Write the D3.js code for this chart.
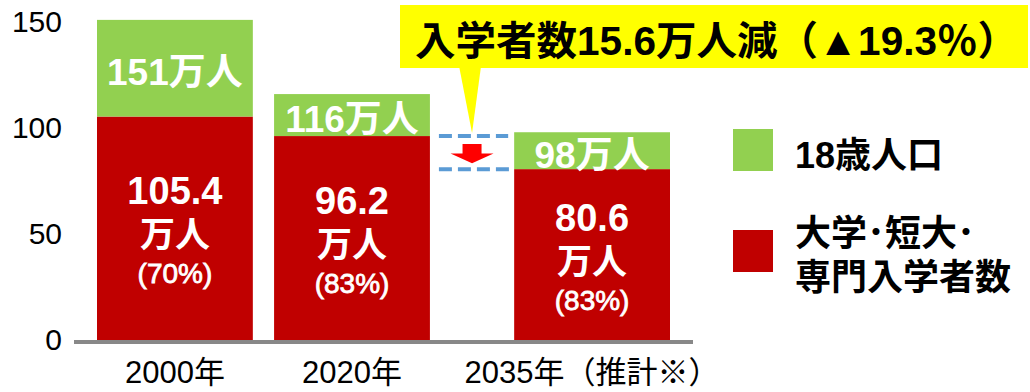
<!DOCTYPE html>
<html lang="ja">
<head>
<meta charset="utf-8">
<script src="https://cdn.jsdelivr.net/npm/d3@7"></script>
<style>
  html, body { margin: 0; padding: 0; background: #fff; }
  svg { display: block; }
  text { font-family: "Liberation Sans", Arial, "Noto Sans CJK JP", sans-serif; }
</style>
</head>
<body>
<svg id="chart" width="1030" height="392"></svg>
<script>
// 18歳人口と大学・短大・専門入学者数（万人）
const categories    = ["2000年", "2020年", "2035年（推計※）"];
const population18  = [151, 116, 98];       // 18歳人口
const enrolled      = [105.4, 96.2, 80.6];  // 大学・短大・専門入学者数
const enrolledShare = [70, 83, 83];         // 進学率（%）
const projected     = [false, false, true]; // 推計値かどうか
const yTicks        = [0, 50, 100, 150];
const dropRate      = "19.3";
const legendLabels  = [["18歳人口"], ["大学･短大･", "専門入学者数"]];

const GREEN = "#92D050", RED = "#C00000", YELLOW = "#FFFF00";
const svg = d3.select("#chart");

const baseY = 340;
const y = d3.scaleLinear().domain([0, 150]).range([baseY, 22]);
const x = d3.scaleBand().domain(categories).range([97, 607]).paddingInner(0.12).paddingOuter(0);
const projGap = 63; // 推計年は少し離して置く
const bw = x.bandwidth();
const left = (d, i) => x(d) + (projected[i] ? projGap : 0);
const center = (d, i) => left(d, i) + bw / 2;

const rows = categories.map((c, i) => ({
  cat: c, total: population18[i], enr: enrolled[i], share: enrolledShare[i], i
}));

// 入学者数（赤）
svg.append("g").selectAll("rect").data(rows).join("rect")
  .attr("x", d => left(d.cat, d.i))
  .attr("width", bw)
  .attr("y", d => y(d.enr))
  .attr("height", d => y(0) - y(d.enr))
  .attr("fill", RED);

// 18歳人口の残り（緑）
svg.append("g").selectAll("rect").data(rows).join("rect")
  .attr("x", d => left(d.cat, d.i))
  .attr("width", bw)
  .attr("y", d => y(d.total))
  .attr("height", d => y(d.enr) - y(d.total))
  .attr("fill", GREEN);

// 基線
const axisLeftX = x.range()[0] - 23;
const axisRightX = left(categories[2], 2) + bw + 23;
svg.append("line")
  .attr("x1", axisLeftX).attr("x2", axisRightX)
  .attr("y1", baseY + 2).attr("y2", baseY + 2)
  .attr("stroke", "#888").attr("stroke-width", 4);

// Y軸
const yAxis = svg.append("g")
  .attr("transform", "translate(62,0)")
  .call(d3.axisLeft(y).tickValues(yTicks).tickSize(0).tickPadding(0));
yAxis.select(".domain").remove();
yAxis.selectAll("text")
  .attr("font-size", 30).attr("fill", "#000")
  .style("font-family", '"Liberation Sans", Arial, sans-serif');

// X軸ラベル
svg.append("g").selectAll("text").data(rows).join("text")
  .attr("x", d => center(d.cat, d.i))
  .attr("y", 383)
  .attr("text-anchor", "middle")
  .attr("font-size", 31)
  .attr("fill", "#000")
  .text(d => d.cat);

// 緑の区間ラベル
svg.append("g").selectAll("text").data(rows).join("text")
  .attr("x", d => center(d.cat, d.i))
  .attr("y", d => (y(d.total) + y(d.enr)) / 2 + 17)
  .attr("text-anchor", "middle")
  .attr("font-size", 37).attr("font-weight", "bold")
  .attr("fill", "#fff")
  .text(d => `${d.total}万人`);

// 赤の区間ラベル（3行）
const redLabels = svg.append("g").selectAll("g").data(rows).join("g")
  .attr("transform", d => `translate(${center(d.cat, d.i)},${(y(d.enr) + y(0)) / 2})`)
  .attr("fill", "#fff").attr("text-anchor", "middle");
redLabels.append("text").attr("y", -24).attr("font-size", 38).attr("font-weight", "bold")
  .text(d => d.enr.toFixed(1));
redLabels.append("text").attr("y", 19).attr("font-size", 35).attr("font-weight", "bold")
  .text("万人");
redLabels.append("text").attr("y", 55).attr("font-size", 28)
  .attr("stroke", "#fff").attr("stroke-width", 0.8)
  .text(d => `(${d.share}%)`);

// 2020→2035 の減少幅
const gapL = left(categories[1], 1) + bw;
const gapR = left(categories[2], 2);
const gapMid = (gapL + gapR) / 2;
const yHi = y(enrolled[1]), yLo = y(enrolled[2]);
const dash = svg.append("g").attr("stroke", "#5B9BD5").attr("stroke-width", 4)
  .attr("stroke-dasharray", "13,6");
dash.append("line").attr("x1", gapL + 9).attr("x2", gapR - 6).attr("y1", yHi).attr("y2", yHi);
dash.append("line").attr("x1", gapL + 9).attr("x2", gapR).attr("y1", yLo).attr("y2", yLo);

const aTop = yHi + 8, aBot = yLo - 6, aMid = (aTop + aBot) / 2;
svg.append("path")
  .attr("d", `M${gapMid - 9.5},${aTop} H${gapMid + 9.5} V${aMid} H${gapMid + 21.5}
              L${gapMid},${aBot} L${gapMid - 21.5},${aMid} H${gapMid - 9.5} Z`)
  .attr("fill", "#FF0000");

// 吹き出し
const drop = (enrolled[1] - enrolled[2]).toFixed(1);
svg.append("path")
  .attr("d", `M${gapMid - 13},66 L${gapMid + 9},66 L${gapMid},${yHi - 3} Z`)
  .attr("fill", YELLOW);
svg.append("rect")
  .attr("x", 400).attr("y", 5).attr("width", 628).attr("height", 63)
  .attr("fill", YELLOW);
svg.append("text")
  .attr("x", 415).attr("y", 55)
  .attr("font-size", 40).attr("font-weight", "bold").attr("fill", "#000")
  .attr("textLength", 603).attr("lengthAdjust", "spacingAndGlyphs")
  .text(`入学者数${drop}万人減（▲${dropRate}％）`);

// 凡例
const legend = svg.append("g");
[GREEN, RED].forEach((col, i) => {
  const top = 129 + i * 101;
  legend.append("rect").attr("x", 733).attr("y", top).attr("width", 40).attr("height", 42)
    .attr("fill", col);
  const t = legend.append("text").attr("font-size", 36).attr("font-weight", "bold").attr("fill", "#000");
  legendLabels[i].forEach((line, j) => {
    t.append("tspan").attr("x", 795)
      .attr("y", i === 0 ? 168 : 246 + j * 44)
      .text(line);
  });
});
</script>
</body>
</html>
